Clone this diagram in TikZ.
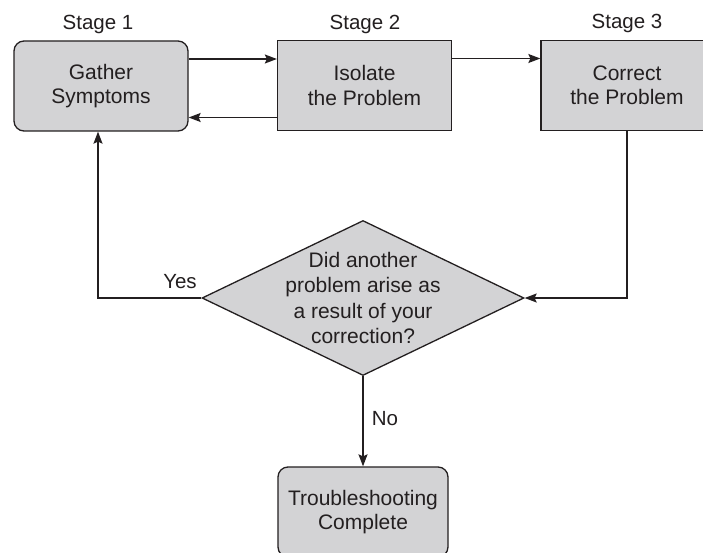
\documentclass[tikz,border=0pt]{standalone}
\usepackage{fontspec}
\setmainfont{Liberation Sans}
\usetikzlibrary{shapes.geometric,arrows.meta,calc}
\definecolor{boxfill}{HTML}{D3D3D5}
\definecolor{ink}{HTML}{231F20}
\tikzset{
  base/.style={draw=ink, line width=1.3pt, fill=boxfill, text=ink, align=center,
    font=\fontsize{21}{24.5}\selectfont, inner sep=0pt},
  stagebox/.style={base, rectangle, minimum width=174pt, minimum height=90pt},
  roundbox/.style={stagebox, rounded corners=10pt},
  decision/.style={base, diamond, minimum width=322pt, minimum height=155pt, aspect=2.08},
  question/.style={text=ink, align=center, font=\fontsize{21}{25.5}\selectfont, inner sep=0pt},
  lbl/.style={text=ink, font=\fontsize{20.5}{24}\selectfont, inner sep=0pt},
  flow/.style={draw=ink, line width=1.3pt, -{Stealth[length=12pt,width=9pt,inset=2pt]}}
}
\begin{document}
\begin{tikzpicture}[x=1pt,y=-1pt]
  \clip (0,0) rectangle (703,553);
  \fill[white] (0,0) rectangle (703,553);

  % stage boxes
  \node[roundbox] (gather) at (101,86) {Gather\\Symptoms};
  \node[stagebox] (isolate) at (364.5,85.5) {Isolate\\the Problem};
  \node[stagebox, minimum width=172pt] (correct) at (627,85.5) {Correct\\the Problem};

  % stage labels
  \node[lbl, anchor=base] (s1) at (98,30) {Stage 1};
  \node[lbl, anchor=base] (s2) at (365,30) {Stage 2};
  \node[lbl, anchor=base] (s3) at (627,29) {Stage 3};

  % decision and end
  \node[decision] (check) at (363,298) {};
  \node[question] (checktext) at (check.center)
    {Did another\\problem arise as\\a result of your\\correction?};
  \node[roundbox, minimum width=170pt] (done) at (363,512) {Troubleshooting\\Complete};

  % forward / backward links between stages
  \draw[flow] ([yshift=27pt]gather.east) -- ([yshift=27pt]gather.east -| isolate.west);
  \draw[flow] ([yshift=-32pt]isolate.west) -- ([yshift=-32pt]isolate.west -| gather.east);
  \draw[flow] ([yshift=27pt]isolate.east) -- ([yshift=27pt]isolate.east -| correct.west);

  % loop through the decision
  \draw[flow] (correct.south) |- (check.east);
  \coordinate (yesturn) at (98,298);
  \draw[flow] (check.west) -- (yesturn) -- (yesturn |- gather.south);
  \node[lbl, anchor=base] (yes) at (180,288) {Yes};

  \draw[flow] (check.south) -- (done.north);
  \node[lbl, anchor=base] (no) at (385,425) {No};
\end{tikzpicture}
\end{document}
